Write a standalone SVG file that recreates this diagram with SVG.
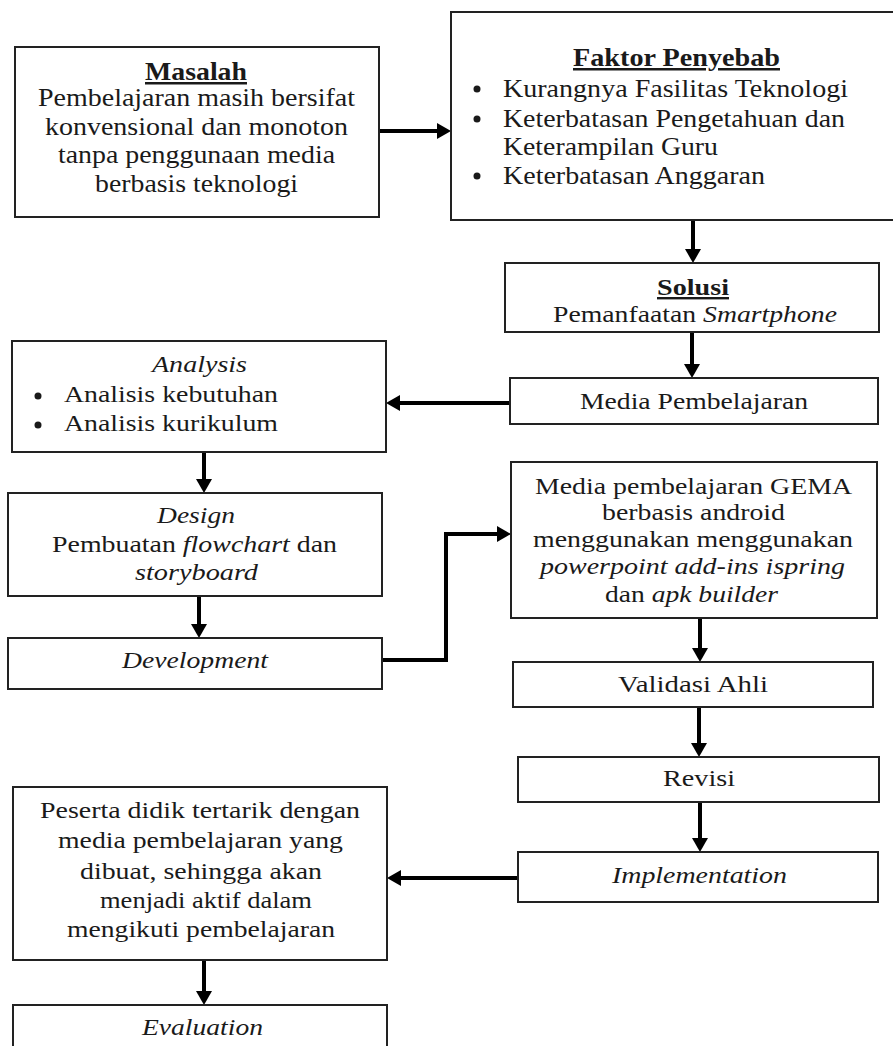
<svg xmlns="http://www.w3.org/2000/svg" width="893" height="1046" viewBox="0 0 893 1046">
<style>
  .box { fill: #ffffff; stroke: #222222; stroke-width: 2; }
  text { font-family: "Liberation Serif", "Times New Roman", serif; font-size: 24px; fill: #1a1a1a; }
  .big { font-size: 25px; }
  .b { font-weight: bold; text-decoration: underline; }
  .i { font-style: italic; }
  .conn { fill: none; stroke: #000000; stroke-width: 4; stroke-linejoin: miter; }
  .dot { fill: #1a1a1a; }
</style>
<defs>
  <marker id="ah" viewBox="0 0 14 16" refX="1" refY="8" markerWidth="14" markerHeight="16" markerUnits="userSpaceOnUse" orient="auto">
    <path d="M0,0 L14,8 L0,16 z" fill="#000000"/>
  </marker>
</defs>
<rect width="893" height="1046" fill="#ffffff"/>

<g id="connectors">
  <path class="conn" d="M379,131 H438" marker-end="url(#ah)"/>
  <path class="conn" d="M693,220 V250" marker-end="url(#ah)"/>
  <path class="conn" d="M692,332 V365" marker-end="url(#ah)"/>
  <path class="conn" d="M510,403 H399" marker-end="url(#ah)"/>
  <path class="conn" d="M204,452 V480" marker-end="url(#ah)"/>
  <path class="conn" d="M199,596 V625" marker-end="url(#ah)"/>
  <path class="conn" d="M382,660 H446 V534 H498" marker-end="url(#ah)"/>
  <path class="conn" d="M700,618 V649" marker-end="url(#ah)"/>
  <path class="conn" d="M699,707 V744" marker-end="url(#ah)"/>
  <path class="conn" d="M700,802 V839" marker-end="url(#ah)"/>
  <path class="conn" d="M518,878 H400" marker-end="url(#ah)"/>
  <path class="conn" d="M204,960 V992" marker-end="url(#ah)"/>
</g>

<g id="masalah">
  <rect class="box" x="15" y="47" width="364" height="170"/>
  <text class="b big" x="145" y="80" textLength="102" lengthAdjust="spacingAndGlyphs">Masalah</text>
  <text class="big" x="38" y="106" textLength="317" lengthAdjust="spacingAndGlyphs">Pembelajaran masih bersifat</text>
  <text class="big" x="45" y="135" textLength="303" lengthAdjust="spacingAndGlyphs">konvensional dan monoton</text>
  <text class="big" x="58" y="163" textLength="277" lengthAdjust="spacingAndGlyphs">tanpa penggunaan media</text>
  <text class="big" x="95" y="192" textLength="203" lengthAdjust="spacingAndGlyphs">berbasis teknologi</text>
</g>

<g id="faktor">
  <rect class="box" x="451" y="12" width="460" height="208"/>
  <text class="b big" x="573" y="66" textLength="207" lengthAdjust="spacingAndGlyphs">Faktor Penyebab</text>
  <circle class="dot" cx="477" cy="89" r="3.5"/>
  <circle class="dot" cx="477" cy="119" r="3.5"/>
  <circle class="dot" cx="477" cy="176" r="3.5"/>
  <text class="big" x="503" y="97" textLength="345" lengthAdjust="spacingAndGlyphs">Kurangnya Fasilitas Teknologi</text>
  <text class="big" x="503" y="127" textLength="342" lengthAdjust="spacingAndGlyphs">Keterbatasan Pengetahuan dan</text>
  <text class="big" x="503" y="155" textLength="215" lengthAdjust="spacingAndGlyphs">Keterampilan Guru</text>
  <text class="big" x="503" y="184" textLength="262" lengthAdjust="spacingAndGlyphs">Keterbatasan Anggaran</text>
</g>

<g id="solusi">
  <rect class="box" x="505" y="263" width="374" height="69"/>
  <text class="b" x="657" y="295" textLength="72" lengthAdjust="spacingAndGlyphs">Solusi</text>
  <text x="553" y="322" textLength="284" lengthAdjust="spacingAndGlyphs">Pemanfaatan <tspan class="i">Smartphone</tspan></text>
</g>

<g id="media">
  <rect class="box" x="510" y="378" width="368" height="46"/>
  <text x="580" y="409" textLength="228" lengthAdjust="spacingAndGlyphs">Media Pembelajaran</text>
</g>

<g id="analysis">
  <rect class="box" x="12" y="341" width="374" height="111"/>
  <text class="i" x="152" y="372" textLength="95" lengthAdjust="spacingAndGlyphs">Analysis</text>
  <circle class="dot" cx="38" cy="396" r="3.5"/>
  <circle class="dot" cx="38" cy="425" r="3.5"/>
  <text x="64" y="402" textLength="214" lengthAdjust="spacingAndGlyphs">Analisis kebutuhan</text>
  <text x="64" y="431" textLength="214" lengthAdjust="spacingAndGlyphs">Analisis kurikulum</text>
</g>

<g id="design">
  <rect class="box" x="8" y="493" width="374" height="103"/>
  <text class="i" x="157" y="523" textLength="78" lengthAdjust="spacingAndGlyphs">Design</text>
  <text x="52" y="552" textLength="285" lengthAdjust="spacingAndGlyphs">Pembuatan <tspan class="i">flowchart</tspan> dan</text>
  <text class="i" x="135" y="580" textLength="123" lengthAdjust="spacingAndGlyphs">storyboard</text>
</g>

<g id="development">
  <rect class="box" x="8" y="638" width="374" height="51"/>
  <text class="i" x="122" y="668" textLength="146" lengthAdjust="spacingAndGlyphs">Development</text>
</g>

<g id="gema">
  <rect class="box" x="511" y="462" width="366" height="156"/>
  <text x="535" y="494" textLength="317" lengthAdjust="spacingAndGlyphs">Media pembelajaran GEMA</text>
  <text x="602" y="520" textLength="183" lengthAdjust="spacingAndGlyphs">berbasis android</text>
  <text x="533" y="547" textLength="320" lengthAdjust="spacingAndGlyphs">menggunakan menggunakan</text>
  <text class="i" x="540" y="574" textLength="305" lengthAdjust="spacingAndGlyphs">powerpoint add-ins ispring</text>
  <text x="605" y="602" textLength="173" lengthAdjust="spacingAndGlyphs">dan <tspan class="i">apk builder</tspan></text>
</g>

<g id="validasi">
  <rect class="box" x="513" y="662" width="360" height="45"/>
  <text x="618" y="692" textLength="150" lengthAdjust="spacingAndGlyphs">Validasi Ahli</text>
</g>

<g id="revisi">
  <rect class="box" x="518" y="757" width="361" height="45"/>
  <text x="663" y="786" textLength="72" lengthAdjust="spacingAndGlyphs">Revisi</text>
</g>

<g id="implementation">
  <rect class="box" x="518" y="852" width="360" height="50"/>
  <text class="i" x="612" y="883" textLength="175" lengthAdjust="spacingAndGlyphs">Implementation</text>
</g>

<g id="peserta">
  <rect class="box" x="13" y="787" width="374" height="173"/>
  <text x="40" y="818" textLength="320" lengthAdjust="spacingAndGlyphs">Peserta didik tertarik dengan</text>
  <text x="58" y="848" textLength="285" lengthAdjust="spacingAndGlyphs">media pembelajaran yang</text>
  <text x="80" y="879" textLength="242" lengthAdjust="spacingAndGlyphs">dibuat, sehingga akan</text>
  <text x="100" y="908" textLength="212" lengthAdjust="spacingAndGlyphs">menjadi aktif dalam</text>
  <text x="67" y="937" textLength="268" lengthAdjust="spacingAndGlyphs">mengikuti pembelajaran</text>
</g>

<g id="evaluation">
  <rect class="box" x="13" y="1005" width="374" height="60"/>
  <text class="i" x="142" y="1035" textLength="121" lengthAdjust="spacingAndGlyphs">Evaluation</text>
</g>
</svg>
